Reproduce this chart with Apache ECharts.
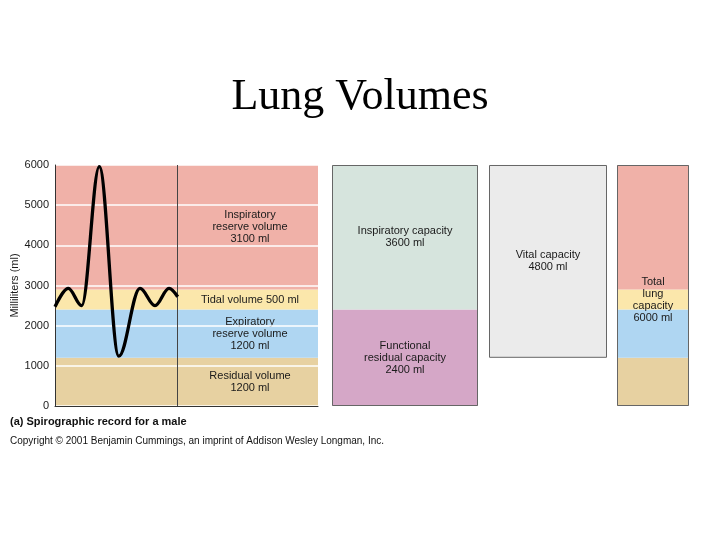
<!DOCTYPE html>
<html><head><meta charset="utf-8">
<script src="https://cdn.jsdelivr.net/npm/echarts@6/dist/echarts.min.js"></script>
<style>html,body{margin:0;padding:0;background:#fff}#c{width:720px;height:540px}</style>
</head><body><div id="c"></div>
<script>
// ---- data ----
const yTicks = [0, 1000, 2000, 3000, 4000, 5000, 6000];
const volumeNames = ['Residual volume', 'Expiratory reserve volume', 'Tidal volume', 'Inspiratory reserve volume'];
const volumeValues = [1200, 1200, 500, 3100];
const volumeLabels = ['Residual volume\n1200 ml', 'Expiratory\nreserve volume\n1200 ml', 'Tidal volume 500 ml', 'Inspiratory\nreserve volume\n3100 ml'];
const traceTime = [0, 13.3, 26.7, 44.3, 63.8, 85, 100, 114, 122.7];
const traceVolume = [2470, 2930, 2500, 5960, 1240, 2930, 2500, 2930, 2720];
const recordEnd = 122.7;
const traceSpan = 263;
const capacityNames = ['Functional residual capacity', 'Inspiratory capacity'];
const capacityValues = [2400, 3600];
const capacityLabels = ['Functional\nresidual capacity\n2400 ml', 'Inspiratory capacity\n3600 ml'];
const vitalBase = 1200;
const vitalValue = 4800;
const vitalLabel = 'Vital capacity\n4800 ml';
const totalValue = 6000;
const totalLabel = 'Total\nlung\ncapacity\n6000 ml';

// ---- style ----
const SANS = '"Liberation Sans", Arial, Helvetica, sans-serif';
const volumeColors = ['#e7d1a1', '#afd6f2', '#fbe7ab', '#f0b1a8'];
const capacityColors = ['#d5a7c7', '#d6e4dd'];
const vitalColor = '#ebebeb';
const edge = '#666';
const txt = { fontFamily: SANS, fontSize: 11, color: '#1a1a1a', lineHeight: 12 };

const chart = echarts.init(document.getElementById('c'), null, { renderer: 'canvas' });
const TOP = 165, H = 241;
const grids = [
  { left: 55, top: TOP, width: 263, height: H },
  { left: 332, top: TOP, width: 146, height: H },
  { left: 489, top: TOP, width: 118, height: H },
  { left: 617, top: TOP, width: 72, height: H }
];
const hiddenY = (gi) => ({ type: 'value', gridIndex: gi, min: 0, max: 6000, show: false });
const hiddenX = (gi) => ({ type: 'category', gridIndex: gi, data: ['v'], show: false });

const series = [];
// volume bands behind the trace
volumeValues.forEach((v, i) => {
  series.push({
    name: volumeNames[i], type: 'bar', xAxisIndex: 1, yAxisIndex: 0, stack: 'vol',
    barWidth: '100%', data: [v], silent: true, z: 1,
    itemStyle: { color: volumeColors[i] },
    label: Object.assign({ show: true, position: 'inside', offset: [63.5, 0], formatter: volumeLabels[i], align: 'center' }, txt)
  });
});
series.push({
  name: 'Spirogram', type: 'line', xAxisIndex: 0, yAxisIndex: 0,
  data: traceTime.map((t, i) => [t, traceVolume[i]]),
  smooth: 0.36, smoothMonotone: 'x', symbol: 'none', silent: true, z: 6,
  lineStyle: { color: '#000', width: 3.3 },
  markLine: {
    silent: true, symbol: 'none', label: { show: false },
    lineStyle: { color: '#444', width: 1, type: 'solid' },
    data: [{ xAxis: recordEnd }]
  }
});
// capacity box 1
capacityValues.forEach((v, i) => {
  series.push({
    name: capacityNames[i], type: 'bar', xAxisIndex: 2, yAxisIndex: 1, stack: 'cap',
    barWidth: '100%', barGap: '-100%', data: [v], silent: true,
    itemStyle: { color: capacityColors[i] },
    label: Object.assign({ show: true, position: 'inside', formatter: capacityLabels[i], align: 'center' }, txt)
  });
});
series.push({
  type: 'bar', xAxisIndex: 2, yAxisIndex: 1, barWidth: '100%', barGap: '-100%', data: [totalValue],
  silent: true, clip: false, z: 4,
  itemStyle: { color: 'rgba(0,0,0,0)', borderColor: edge, borderWidth: 1 }
});
// vital capacity
series.push({
  type: 'bar', xAxisIndex: 3, yAxisIndex: 2, stack: 'vc', barWidth: '100%', data: [vitalBase],
  silent: true, itemStyle: { color: 'rgba(0,0,0,0)' }
});
series.push({
  name: 'Vital capacity', type: 'bar', xAxisIndex: 3, yAxisIndex: 2, stack: 'vc', barWidth: '100%',
  data: [vitalValue], silent: true, clip: false,
  itemStyle: { color: vitalColor, borderColor: edge, borderWidth: 1 },
  label: Object.assign({ show: true, position: 'inside', formatter: vitalLabel, align: 'center' }, txt)
});
// total lung capacity
volumeValues.forEach((v, i) => {
  series.push({
    type: 'bar', xAxisIndex: 4, yAxisIndex: 3, stack: 'tlc', barWidth: '100%', barGap: '-100%',
    data: [v], silent: true, itemStyle: { color: volumeColors[i] },
    label: Object.assign({ show: i === 2, position: 'inside', formatter: totalLabel, align: 'center' }, txt)
  });
});
series.push({
  type: 'bar', xAxisIndex: 4, yAxisIndex: 3, barWidth: '100%', barGap: '-100%', data: [totalValue],
  silent: true, clip: false, z: 4,
  itemStyle: { color: 'rgba(0,0,0,0)', borderColor: edge, borderWidth: 1 }
});

chart.setOption({
  animation: false,
  backgroundColor: '#fff',
  title: [
    { text: 'Lung Volumes', left: 'center', top: 75, padding: 0,
      textStyle: { fontFamily: '"Liberation Serif", "Times New Roman", serif', fontSize: 44, fontWeight: 'normal', color: '#000' } },
    { text: '(a) Spirographic record for a male', left: 10, top: 416, padding: 0,
      textStyle: { fontFamily: SANS, fontSize: 11, fontWeight: 'bold', color: '#111' } },
    { text: 'Copyright \u00a9 2001 Benjamin Cummings, an imprint of Addison Wesley Longman, Inc.', left: 10, top: 436, padding: 0,
      textStyle: { fontFamily: SANS, fontSize: 10, fontWeight: 'normal', color: '#111' } }
  ],
  grid: grids,
  xAxis: [
    { type: 'value', gridIndex: 0, min: 0, max: traceSpan, z: 3,
      axisLine: { show: true, lineStyle: { color: '#333', width: 1 } },
      axisTick: { show: false }, axisLabel: { show: false }, splitLine: { show: false } },
    hiddenX(0), hiddenX(1), hiddenX(2), hiddenX(3)
  ],
  yAxis: [
    { type: 'value', gridIndex: 0, min: yTicks[0], max: yTicks[yTicks.length - 1], interval: 1000, z: 3,
      name: 'Milliliters (ml)', nameLocation: 'middle', nameGap: 31,
      nameTextStyle: { fontFamily: SANS, fontSize: 11, color: '#1a1a1a' },
      axisLine: { show: true, lineStyle: { color: '#333', width: 1 } },
      axisTick: { show: false },
      axisLabel: { fontFamily: SANS, fontSize: 11, color: '#1a1a1a', margin: 6, formatter: (v) => String(v) },
      splitLine: { show: true, lineStyle: { color: '#ffffff', width: 1.5 } } },
    hiddenY(1), hiddenY(2), hiddenY(3)
  ],
  series: series
});
</script></body></html>
